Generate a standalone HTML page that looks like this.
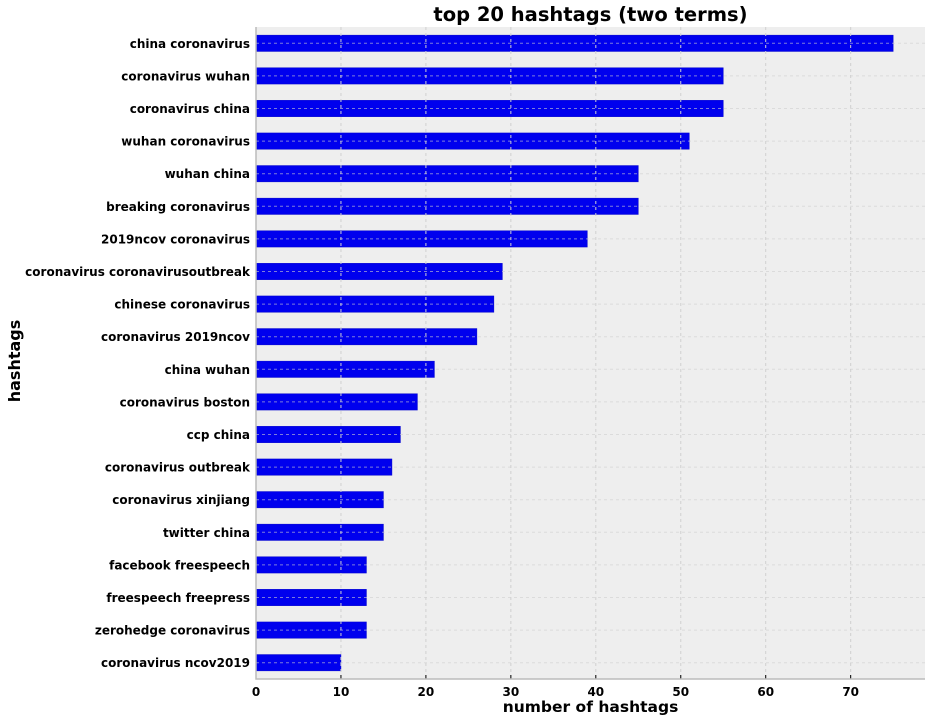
<!DOCTYPE html>
<html><head><meta charset="utf-8"><style>
body{margin:0;background:#fff;width:931px;height:722px;overflow:hidden}
text{font-family:"DejaVu Sans","Liberation Sans",sans-serif}
</style></head><body>
<svg id="chart" width="931" height="722"></svg>
<script>
const categories=["china coronavirus","coronavirus wuhan","coronavirus china","wuhan coronavirus","wuhan china","breaking coronavirus","2019ncov coronavirus","coronavirus coronavirusoutbreak","chinese coronavirus","coronavirus 2019ncov","china wuhan","coronavirus boston","ccp china","coronavirus outbreak","coronavirus xinjiang","twitter china","facebook freespeech","freespeech freepress","zerohedge coronavirus","coronavirus ncov2019"];
const counts=[75,55,55,51,45,45,39,29,28,26,21,19,17,16,15,15,13,13,13,10];
const xTicks=[0,10,20,30,40,50,60,70];
const NS="http://www.w3.org/2000/svg";
const svg=document.getElementById('chart');
const L=256,R=925,T=27,B=679,xMax=78.75;
const x=v=>L+v/xMax*(R-L);
const band=(B-T)/categories.length;
const y=i=>T+band*(i+0.5);
function mk(tag,attrs,parent){const e=document.createElementNS(NS,tag);for(const k in attrs)e.setAttribute(k,attrs[k]);(parent||svg).appendChild(e);return e;}
const bg=mk('rect',{x:L,y:T,width:R-L,height:B-T,fill:'#eeeeee'});


counts.forEach((v,i)=>{
  const r=mk('rect',{x:L,y:y(i)-band/4,width:x(v)-L,height:band/2,fill:'#0000ee',stroke:'#0000cc','stroke-width':0.5});
  
  
});
xTicks.forEach(t=>{
  const g=mk('line',{x1:x(t),x2:x(t),y1:T,y2:B,stroke:'#d0d0d0','stroke-dasharray':'3,3','stroke-width':1});
  
  
  const tk=mk('line',{x1:x(t),x2:x(t),y1:B,y2:B-4,stroke:'#000'});
  
  
  const tl=mk('text',{x:x(t),y:B+17,'text-anchor':'middle','font-size':12,'font-weight':'bold'});
  tl.textContent=t;
  
  
});
categories.forEach((c,i)=>{
  const g=mk('line',{x1:L,x2:R,y1:y(i),y2:y(i),stroke:'#d0d0d0','stroke-dasharray':'3,3','stroke-width':1,opacity:0.6});
  
  
  const tl=mk('text',{x:L-6,y:y(i)+4.5,'text-anchor':'end','font-size':12,'font-weight':'bold'});
  tl.textContent=c;
  
  
});
const ax=mk('path',{d:`M${L} ${T}V${B}H${R}`,stroke:'#bcbcbc',fill:'none','stroke-width':1.5});


const ti=mk('text',{x:(L+R)/2,y:21,'text-anchor':'middle','font-size':19.5,'font-weight':'bold'});
ti.textContent='top 20 hashtags (two terms)';


const xl=mk('text',{x:(L+R)/2,y:712,'text-anchor':'middle','font-size':15.5,'font-weight':'bold'});
xl.textContent='number of hashtags';


const yl=mk('text',{x:0,y:0,'text-anchor':'middle','font-size':16,'font-weight':'bold',transform:`translate(20 ${(T+B)/2+8}) rotate(-90)`});
yl.textContent='hashtags';


</script>
</body></html>
